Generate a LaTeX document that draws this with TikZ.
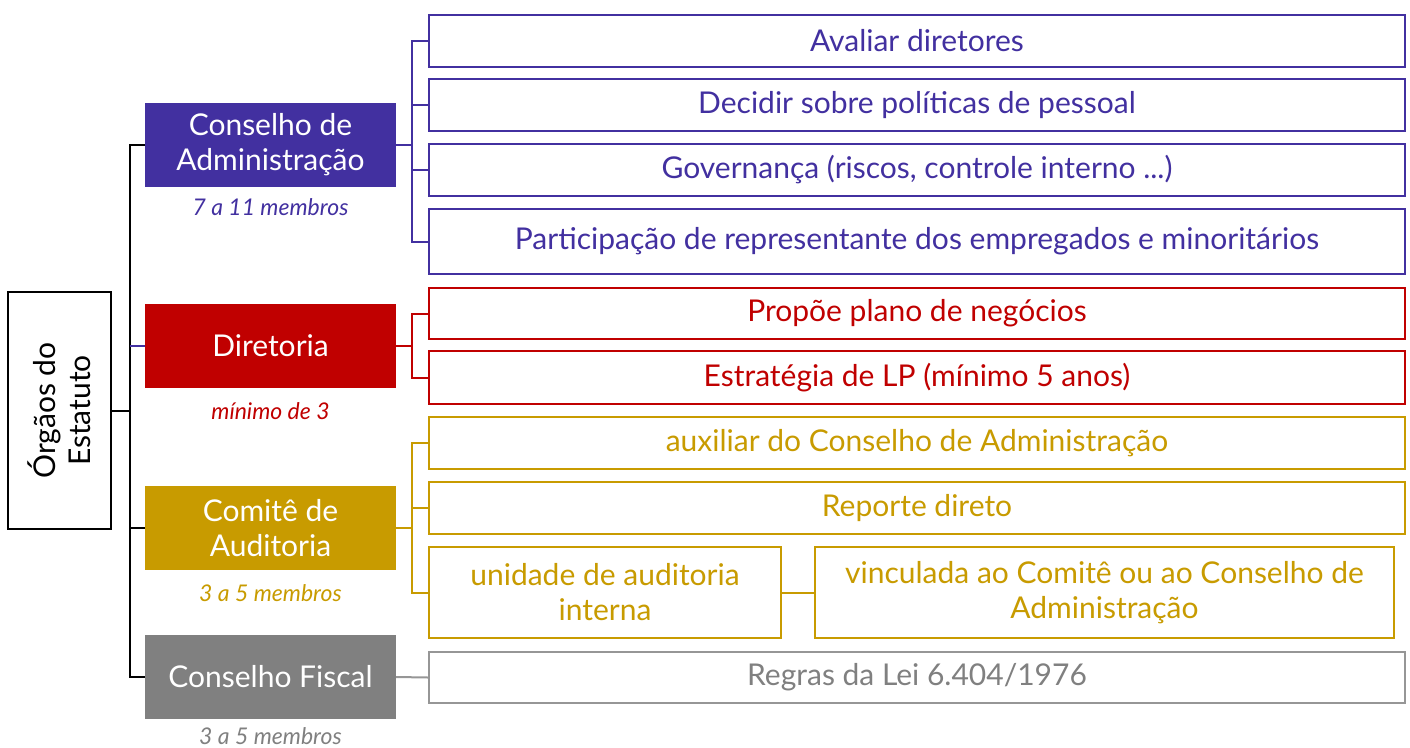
\documentclass[tikz,border=0pt]{standalone}
\usepackage{fontspec}
\setmainfont{Lato}
\usepackage{tikz}
\usetikzlibrary{calc}
\definecolor{roxo}{RGB}{66,48,160}
\definecolor{vermelho}{RGB}{192,0,0}
\definecolor{ouro}{RGB}{200,155,0}
\definecolor{cinza}{RGB}{128,128,128}
\definecolor{cinzaclaro}{RGB}{150,150,150}

\begin{document}
\begin{tikzpicture}[x=1pt, y=-1pt,
    orgao/.style={rectangle, inner sep=0pt, minimum width=251pt, minimum height=84pt, align=center, text=white, font=\fontsize{30}{35}\selectfont},
    item/.style={rectangle, draw=#1, text=#1, line width=2pt, inner sep=0pt, fill=white, align=center, font=\fontsize{30}{35}\selectfont},
    membros/.style={font=\fontsize{23}{26}\selectfont\itshape},
    liga/.style={line width=2pt}]

                    \useasboundingbox (0,0) rectangle (1410,747);

                    \node[rectangle, draw, line width=2pt, rotate=90, minimum width=237pt, minimum height=103pt, inner sep=0pt, align=center, font=\fontsize{30}{35}\selectfont] (org) at (59.5,410.5) {Órgãos do\\Estatuto};

                    \node[orgao, fill=roxo] (ca) at (270.5,145) {Conselho de\\Administração};
                    \node[orgao, fill=vermelho] (dir) at (270.5,346) {Diretoria};
                    \node[orgao, fill=ouro] (ct) at (270.5,528) {Comitê de\\Auditoria};
                    \node[orgao, fill=cinza] (cf) at (270.5,677) {Conselho Fiscal};

                    \node[membros, text=roxo] (m1) at (270.5,207) {7 a 11 membros};
                    \node[membros, text=vermelho] (m2) at (270.5,411) {mínimo de 3};
                    \node[membros, text=ouro] (m3) at (270.5,593) {3 a 5 membros};
                    \node[membros, text=cinza] (m4) at (270.5,736) {3 a 5 membros};

                    \node[item=roxo, minimum width=976pt, minimum height=52pt] (a1) at (917,41) {Avaliar diretores};
                    \node[item=roxo, minimum width=976pt, minimum height=52pt] (a2) at (917,105) {Decidir sobre políticas de pessoal};
                    \node[item=roxo, minimum width=976pt, minimum height=52pt] (a3) at (917,170) {Governança (riscos, controle interno ...)};
                    \node[item=roxo, minimum width=976pt, minimum height=65pt] (a4) at (917,241.5) {Participação de representante dos empregados e minoritários};

                    \node[item=vermelho, minimum width=976pt, minimum height=51pt] (d1) at (917,313.5) {Propõe plano de negócios};
                    \node[item=vermelho, minimum width=976pt, minimum height=53pt] (d2) at (917,377.5) {Estratégia de LP (mínimo 5 anos)};

                    \node[item=ouro, minimum width=976pt, minimum height=52pt] (c1) at (917,443) {auxiliar do Conselho de Administração};
                    \node[item=ouro, minimum width=976pt, minimum height=52pt] (c2) at (917,508) {Reporte direto};
                    \node[item=ouro, minimum width=352pt, minimum height=91pt] (c3) at (605,592.5) {unidade de auditoria\\interna};
                    \node[item=ouro, minimum width=579pt, minimum height=91pt] (c4) at (1104.5,592.5) {vinculada ao Comitê ou ao Conselho de\\Administração};

                    \node[item=cinzaclaro, text=cinza, minimum width=976pt, minimum height=51pt] (f1) at (917,677.5) {Regras da Lei 6.404/1976};

                    % tronco
                    \draw[liga] (org.south) -- ++(18,0) coordinate (tr);
                    \draw[liga] (ca.west) -| (tr) |- (cf.west);
                    \draw[liga] (ct.west) -- (ct.west -| tr);
                    \draw[liga, roxo] (dir.west) -- (dir.west -| tr);

                    % ramos
                    \draw[liga, roxo] (ca.east) -- ++(16,0) coordinate (b1);
                    \draw[liga, roxo] (a1.west) -| (b1) |- (a4.west);
                    \draw[liga, roxo] (a2.west) -- (a2.west -| b1);
                    \draw[liga, roxo] (a3.west) -- (a3.west -| b1);

                    \draw[liga, vermelho] (dir.east) -- ++(16,0) coordinate (b2);
                    \draw[liga, vermelho] (d1.west) -| (b2) |- (d2.west);

                    \draw[liga, ouro] (ct.east) -- ++(16,0) coordinate (b3);
                    \draw[liga, ouro] (c1.west) -| (b3) |- (c3.west);
                    \draw[liga, ouro] (c2.west) -- (c2.west -| b3);
                    \draw[liga, ouro] (c3.east) -- (c4.west);

                    \draw[liga, cinzaclaro] (cf.east) -- (f1.west);

                \end{tikzpicture}
\end{document}
